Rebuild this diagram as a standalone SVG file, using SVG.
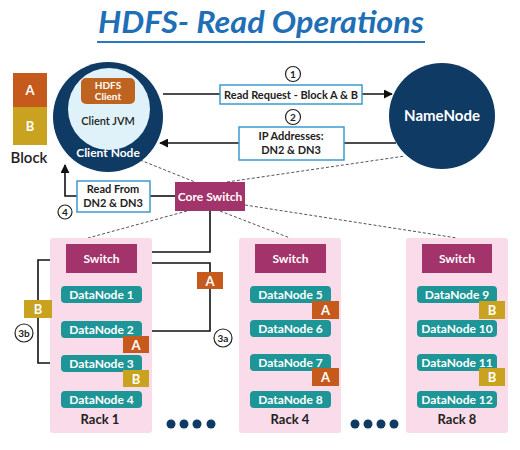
<svg xmlns="http://www.w3.org/2000/svg" width="520" height="450" viewBox="0 0 520 450">
<style>
text{font-family:Lato,"Open Sans",sans-serif;font-weight:bold;text-anchor:middle}
.w{fill:#fff}
.d{fill:#222}
.lbl{fill:#fff;stroke:#3b9bcb;stroke-width:1.5}
.navy{fill:#0e3a64}
.sw{fill:#a3336b}
.dn{fill:#1e9597}
.ba{fill:#c65a1d}
.bb{fill:#c9a320}
.rack{fill:#fadbe9}
.num{fill:#fff;stroke:#222;stroke-width:1.2}
.ln{fill:none;stroke:#111;stroke-width:1.6}
.dash{fill:none;stroke:#555;stroke-width:1;stroke-dasharray:3 2}
</style>
<defs>
<marker id="ah" viewBox="0 0 10 10" refX="9" refY="5" markerWidth="9" markerHeight="9" markerUnits="userSpaceOnUse" orient="auto">
<path d="M0,0 L10,5 L0,10 z" fill="#111"/>
</marker>
</defs>
<rect width="520" height="450" fill="#fff"/>
<g id="title">
<text x="261" y="33" textLength="326" lengthAdjust="spacingAndGlyphs" style="font-size:30px;font-style:italic;fill:#1f6fb6">HDFS- Read Operations</text>
<line x1="97" y1="42" x2="425" y2="42" stroke="#2a78bd" stroke-width="2"/>
</g>
<g id="legend">
<rect x="13" y="73" width="34" height="34" class="ba"/>
<rect x="13" y="107" width="34" height="38" class="bb"/>
<text x="30" y="95" class="w" style="font-size:13px">A</text>
<text x="30" y="131" class="w" style="font-size:13px">B</text>
<text x="29" y="163" class="d" style="font-size:15px;font-weight:600">Block</text>
</g>
<g id="connectors">
<line x1="163" y1="94" x2="392" y2="94" class="ln" marker-end="url(#ah)"/>
<line x1="396" y1="143" x2="160" y2="143" class="ln" marker-end="url(#ah)"/>
<line x1="175" y1="196" x2="150" y2="196" class="ln"/>
<path d="M77,196 H65 V165" class="ln" marker-end="url(#ah)"/>
<path d="M210,211 V252 H137" class="ln"/>
<path d="M142,331 H210 V263 H139" class="ln" marker-end="url(#ah)"/>
<path d="M61,363 H38 V260 H64" class="ln" marker-end="url(#ah)"/>
<line x1="140" y1="160" x2="195" y2="182" class="dash"/>
<line x1="227" y1="182" x2="405" y2="156" class="dash"/>
<line x1="187" y1="211" x2="88" y2="238" class="dash"/>
<line x1="220" y1="211" x2="290" y2="238" class="dash"/>
<line x1="245" y1="205" x2="457" y2="238" class="dash"/>
</g>
<g id="client-node">
<circle cx="108" cy="117" r="55" class="navy"/>
<circle cx="109" cy="109" r="41" fill="#dff1f9"/>
<rect x="81" y="78" width="54" height="26" rx="5" fill="#bf6420"/>
<text x="108" y="89" class="w" style="font-size:10px">HDFS</text>
<text x="108" y="100" class="w" style="font-size:10px">Client</text>
<text x="108" y="125" class="d" style="font-size:11px;font-weight:600">Client JVM</text>
<text x="108" y="157" class="w" style="font-size:12px">Client Node</text>
</g>
<g id="namenode">
<circle cx="442" cy="116" r="53" class="navy"/>
<text x="442" y="121" class="w" style="font-size:15px">NameNode</text>
</g>
<g id="read-request">
<rect x="220" y="85" width="142" height="19" class="lbl"/>
<text x="291" y="99" class="d" style="font-size:11px">Read Request - Block A &amp; B</text>
<circle cx="293" cy="74" r="7.5" class="num"/>
<text x="293" y="78" class="d" style="font-size:10px">1</text>
</g>
<g id="ip-addresses">
<rect x="239" y="127" width="105" height="33" class="lbl"/>
<text x="291" y="140" class="d" style="font-size:11px">IP Addresses:</text>
<text x="291" y="154" class="d" style="font-size:11px">DN2 &amp; DN3</text>
<circle cx="293" cy="117" r="7.5" class="num"/>
<text x="293" y="121" class="d" style="font-size:10px">2</text>
</g>
<g id="core-switch">
<rect x="175" y="182" width="70" height="29" class="sw"/>
<text x="210" y="201" class="w" style="font-size:12px">Core Switch</text>
</g>
<g id="read-from">
<rect x="77" y="181" width="73" height="31" class="lbl"/>
<text x="113" y="193" class="d" style="font-size:11px">Read From</text>
<text x="113" y="207" class="d" style="font-size:11px">DN2 &amp; DN3</text>
<circle cx="65" cy="212" r="7" class="num"/>
<text x="65" y="216" class="d" style="font-size:10px">4</text>
</g>
<g id="rack1">
<rect x="50" y="238" width="102" height="195" rx="3" class="rack"/>
<rect x="66" y="244" width="71" height="29" class="sw"/>
<text x="101.5" y="263" class="w" style="font-size:12px">Switch</text>
<rect x="61" y="286" width="81" height="17" rx="4" class="dn"/>
<text x="101.5" y="299" class="w" style="font-size:12px">DataNode 1</text>
<rect x="61" y="321" width="81" height="17" rx="4" class="dn"/>
<text x="101.5" y="334" class="w" style="font-size:12px">DataNode 2</text>
<rect x="61" y="355" width="81" height="17" rx="4" class="dn"/>
<text x="101.5" y="368" class="w" style="font-size:12px">DataNode 3</text>
<rect x="61" y="391" width="81" height="17" rx="4" class="dn"/>
<text x="101.5" y="404" class="w" style="font-size:12px">DataNode 4</text>
<rect x="123" y="336" width="26" height="17" class="ba"/>
<text x="136" y="350" class="w" style="font-size:13px">A</text>
<rect x="123" y="370" width="26" height="17" class="bb"/>
<text x="136" y="384" class="w" style="font-size:13px">B</text>
<text x="100" y="424" class="d" style="font-size:13px">Rack 1</text>
</g>
<g id="transfer-labels">
<rect x="197" y="272" width="26" height="17" class="ba"/>
<text x="210" y="286" class="w" style="font-size:13px">A</text>
<circle cx="223" cy="338" r="9" class="num"/>
<text x="223" y="342" class="d" style="font-size:10px">3a</text>
<rect x="24" y="300" width="28" height="18" class="bb"/>
<text x="38" y="314" class="w" style="font-size:13px">B</text>
<circle cx="24" cy="333" r="9" class="num"/>
<text x="24" y="337" class="d" style="font-size:10px">3b</text>
</g>
<g id="rack4">
<rect x="239" y="238" width="102" height="195" rx="3" class="rack"/>
<rect x="255" y="244" width="71" height="29" class="sw"/>
<text x="290.5" y="263" class="w" style="font-size:12px">Switch</text>
<rect x="250" y="286" width="81" height="17" rx="4" class="dn"/>
<text x="290.5" y="299" class="w" style="font-size:12px">DataNode 5</text>
<rect x="250" y="320" width="81" height="17" rx="4" class="dn"/>
<text x="290.5" y="333" class="w" style="font-size:12px">DataNode 6</text>
<rect x="250" y="354" width="81" height="17" rx="4" class="dn"/>
<text x="290.5" y="367" class="w" style="font-size:12px">DataNode 7</text>
<rect x="250" y="391" width="81" height="17" rx="4" class="dn"/>
<text x="290.5" y="404" class="w" style="font-size:12px">DataNode 8</text>
<rect x="312" y="301" width="27" height="18" class="ba"/>
<text x="325.5" y="315" class="w" style="font-size:13px">A</text>
<rect x="312" y="368" width="27" height="18" class="ba"/>
<text x="325.5" y="382" class="w" style="font-size:13px">A</text>
<text x="290" y="424" class="d" style="font-size:13px">Rack 4</text>
</g>
<g id="rack8">
<rect x="406" y="238" width="102" height="195" rx="3" class="rack"/>
<rect x="422" y="244" width="70" height="29" class="sw"/>
<text x="457" y="263" class="w" style="font-size:12px">Switch</text>
<rect x="417" y="286" width="80" height="17" rx="4" class="dn"/>
<text x="457" y="299" class="w" style="font-size:12px">DataNode 9</text>
<rect x="417" y="320" width="80" height="17" rx="4" class="dn"/>
<text x="457" y="333" class="w" style="font-size:12px">DataNode 10</text>
<rect x="417" y="354" width="80" height="17" rx="4" class="dn"/>
<text x="457" y="367" class="w" style="font-size:12px">DataNode 11</text>
<rect x="417" y="391" width="80" height="17" rx="4" class="dn"/>
<text x="457" y="404" class="w" style="font-size:12px">DataNode 12</text>
<rect x="479" y="301" width="26" height="18" class="bb"/>
<text x="492" y="315" class="w" style="font-size:13px">B</text>
<rect x="479" y="368" width="26" height="18" class="bb"/>
<text x="492" y="382" class="w" style="font-size:13px">B</text>
<text x="457" y="424" class="d" style="font-size:13px">Rack 8</text>
</g>
<g id="dots">
<circle cx="171" cy="424" r="4.5" class="navy"/>
<circle cx="184" cy="424" r="4.5" class="navy"/>
<circle cx="197" cy="424" r="4.5" class="navy"/>
<circle cx="211" cy="424" r="4.5" class="navy"/>
<circle cx="355" cy="424" r="4.5" class="navy"/>
<circle cx="368" cy="424" r="4.5" class="navy"/>
<circle cx="381" cy="424" r="4.5" class="navy"/>
<circle cx="394" cy="424" r="4.5" class="navy"/>
</g>
</svg>
